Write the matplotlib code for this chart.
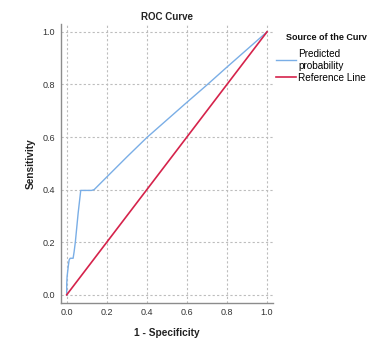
import matplotlib.pyplot as plt

plt.rcParams['font.family'] = ['Liberation Sans', 'DejaVu Sans']

# ROC curve points
fpr = [0.0, 0.0, 0.002, 0.008, 0.012, 0.017, 0.032, 0.037, 0.043, 0.057, 0.07,
       0.124, 0.137, 0.2, 0.3, 0.4, 0.5, 0.6, 0.7, 0.8, 0.9, 1.0]
tpr = [0.0, 0.04, 0.07, 0.11, 0.132, 0.139, 0.139, 0.164, 0.2, 0.31, 0.397,
       0.397, 0.40, 0.448, 0.524, 0.598, 0.665, 0.732, 0.798, 0.866, 0.933, 1.0]
ref_x = [0.0, 1.0]
ref_y = [0.0, 1.0]
ticks = [0.0, 0.2, 0.4, 0.6, 0.8, 1.0]

fig = plt.figure(figsize=(3.67, 3.42), dpi=100)
ax = fig.add_axes([0.1654, 0.1149, 0.5786, 0.8151])

ax.plot(fpr, tpr, color='#7aaee6', linewidth=1.0, label='Predicted\nprobability')
ax.plot(ref_x, ref_y, color='#d5234b', linewidth=1.2, label='Reference Line')

ax.set_xlim(-0.03, 1.03)
ax.set_ylim(-0.03, 1.03)
ax.set_xticks(ticks)
ax.set_yticks(ticks)
ax.set_xticklabels([f'{t:.1f}' for t in ticks])
ax.set_yticklabels([f'{t:.1f}' for t in ticks])
ax.tick_params(length=0, pad=4, labelsize=6.5, labelcolor='#333333')

for s in ['top', 'right']:
    ax.spines[s].set_visible(False)
for s in ['left', 'bottom']:
    ax.spines[s].set_color('#8c8c8c')
    ax.spines[s].set_linewidth(1.0)

ax.grid(True, color='#bdbdbd', linestyle=(0, (2, 2)), linewidth=0.8)
ax.set_axisbelow(True)

ax.set_title('ROC Curve', fontsize=7, fontweight='bold', color='#222222', pad=3)
ax.set_xlabel('1 - Specificity', fontsize=7.3, fontweight='bold', color='#222222', labelpad=8)
ax.set_ylabel('Sensitivity', fontsize=7.3, fontweight='bold', color='#222222', labelpad=5)

fig.text(286 / 367, 1 - 38 / 342, 'Source of the Curve', fontsize=6.5,
         fontweight='bold', va='center', ha='left', color='#111111')
fig.legend(loc='upper left', bbox_to_anchor=(276 / 367, 1 - 49 / 342),
           frameon=False, fontsize=7.2, handlelength=2.0, handletextpad=0.2,
           labelspacing=0.2, borderaxespad=0, borderpad=0)

plt.savefig('out.png', dpi=100)
